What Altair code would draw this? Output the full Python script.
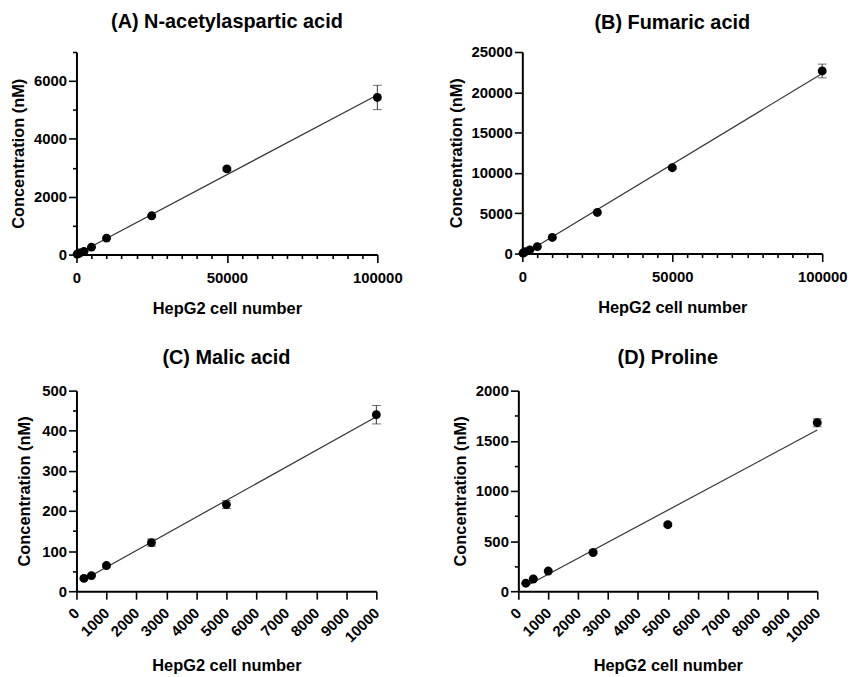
import altair as alt
import pandas as pd

# ---- data ----
cells_big = [250, 500, 1000, 2500, 5000, 10000, 25000, 50000, 100000]
naa_conc = [15, 30, 55, 110, 260, 570, 1340, 2960, 5430]
naa_err = [5, 5, 10, 15, 20, 30, 40, 60, 420]
fum_conc = [60, 120, 250, 450, 860, 2000, 5100, 10650, 22650]
fum_err = [10, 20, 30, 40, 60, 80, 100, 150, 850]

cells_small = [250, 500, 1000, 2500, 5000, 10000]
mal_conc = [32, 39, 64, 121, 216, 440]
mal_err = [2, 3, 4, 9, 10, 23]
pro_conc = [80, 122, 201, 386, 663, 1680]
pro_err = [5, 8, 10, 12, 15, 40]

FONT = "Liberation Sans"


def panel(title, xs, ys, errs, xdom, xvals, xlab_every, ydom, yvals, ylab_every,
          width, height, rotate=False, title_offset=16, ytitle_pad=7):
    df = pd.DataFrame({"x": xs, "y": ys, "e": errs})
    df["lo"] = df["y"] - df["e"]
    df["hi"] = df["y"] + df["e"]

    xtest = f"datum.value % {xlab_every} === 0"
    ytest = f"datum.value % {ylab_every} === 0"
    xaxis = alt.Axis(
        values=xvals,
        format="d",
        labelExpr=f"{xtest} ? datum.label : ''",
        labelOverlap=False,
        grid=False,
        title="HepG2 cell number",
        titlePadding=15 if not rotate else 13,
        labelAngle=315 if rotate else 0,
        labelAlign="right" if rotate else "center",
        labelBaseline="middle" if rotate else "top",
        labelPadding=8 if not rotate else 11,
        tickSize={"condition": {"test": xtest, "value": 8}, "value": 4},
    )
    yaxis = alt.Axis(
        values=yvals,
        format="d",
        labelExpr=f"{ytest} ? datum.label : ''",
        labelOverlap=False,
        grid=False,
        title="Concentration (nM)",
        titlePadding=ytitle_pad,
        labelPadding=2,
        tickSize={"condition": {"test": ytest, "value": 8}, "value": 4},
    )
    xs_ = alt.Scale(domain=xdom, nice=False, zero=False)
    ys_ = alt.Scale(domain=ydom, nice=False)
    X = alt.X("x:Q", scale=xs_, axis=xaxis)

    base = alt.Chart(df)
    line = base.transform_regression("x", "y", method="linear").mark_line(
        color="#333333", strokeWidth=1.2
    ).encode(x=X, y=alt.Y("y:Q", scale=ys_, axis=yaxis))
    rule = base.mark_rule(color="#333333", strokeWidth=1).encode(
        x=X, y=alt.Y("lo:Q", scale=ys_, axis=yaxis), y2="hi:Q"
    )
    cap_lo = base.mark_tick(color="#333333", orient="horizontal", size=9, thickness=1).encode(
        x=X, y=alt.Y("lo:Q", scale=ys_, axis=yaxis)
    )
    cap_hi = base.mark_tick(color="#333333", orient="horizontal", size=9, thickness=1).encode(
        x=X, y=alt.Y("hi:Q", scale=ys_, axis=yaxis)
    )
    pts = base.mark_circle(color="black", size=80, opacity=1).encode(
        x=X, y=alt.Y("y:Q", scale=ys_, axis=yaxis)
    )
    return alt.layer(line, rule, cap_lo, cap_hi, pts).properties(
        width=width, height=height,
        title=alt.TitleParams(title, fontSize=20, font=FONT, fontWeight="bold",
                              color="black", anchor="middle", offset=title_offset),
    )


A = panel("(A) N-acetylaspartic acid", cells_big, naa_conc, naa_err, [0, 100000],
          list(range(0, 100001, 5000)), 50000, [0, 7000], list(range(0, 7001, 1000)), 2000,
          303, 204, title_offset=13)
B = panel("(B) Fumaric acid", cells_big, fum_conc, fum_err, [0, 100000],
          list(range(0, 100001, 5000)), 50000, [0, 25000], list(range(0, 25001, 5000)), 5000,
          302, 203, title_offset=12)
C = panel("(C) Malic acid", cells_small, mal_conc, mal_err, [0, 10000],
          list(range(0, 10001, 1000)), 1000, [0, 500], list(range(0, 501, 50)), 100,
          302, 202, rotate=True, title_offset=16, ytitle_pad=9)
D = panel("(D) Proline", cells_small, pro_conc, pro_err, [0, 10000],
          list(range(0, 10001, 1000)), 1000, [0, 2000], list(range(0, 2001, 250)), 500,
          301, 202, rotate=True, title_offset=16)

chart = alt.vconcat(
    alt.hconcat(A, B, spacing=45),
    alt.hconcat(C, D, spacing=70),
    spacing=31,
    center=False,
).properties(
    padding={"left": 10, "top": 10, "right": 5, "bottom": 0},
    background="white",
).configure_view(stroke=None).configure_axis(
    domainColor="black", domainWidth=2, tickColor="black", tickWidth=1.6,
    labelColor="black", labelFont=FONT, labelFontSize=15, labelFontWeight="bold",
    titleColor="black", titleFont=FONT, titleFontSize=16.5, titleFontWeight="bold",
)

chart.save("out.html", embed_options={"renderer": "svg", "actions": False})
